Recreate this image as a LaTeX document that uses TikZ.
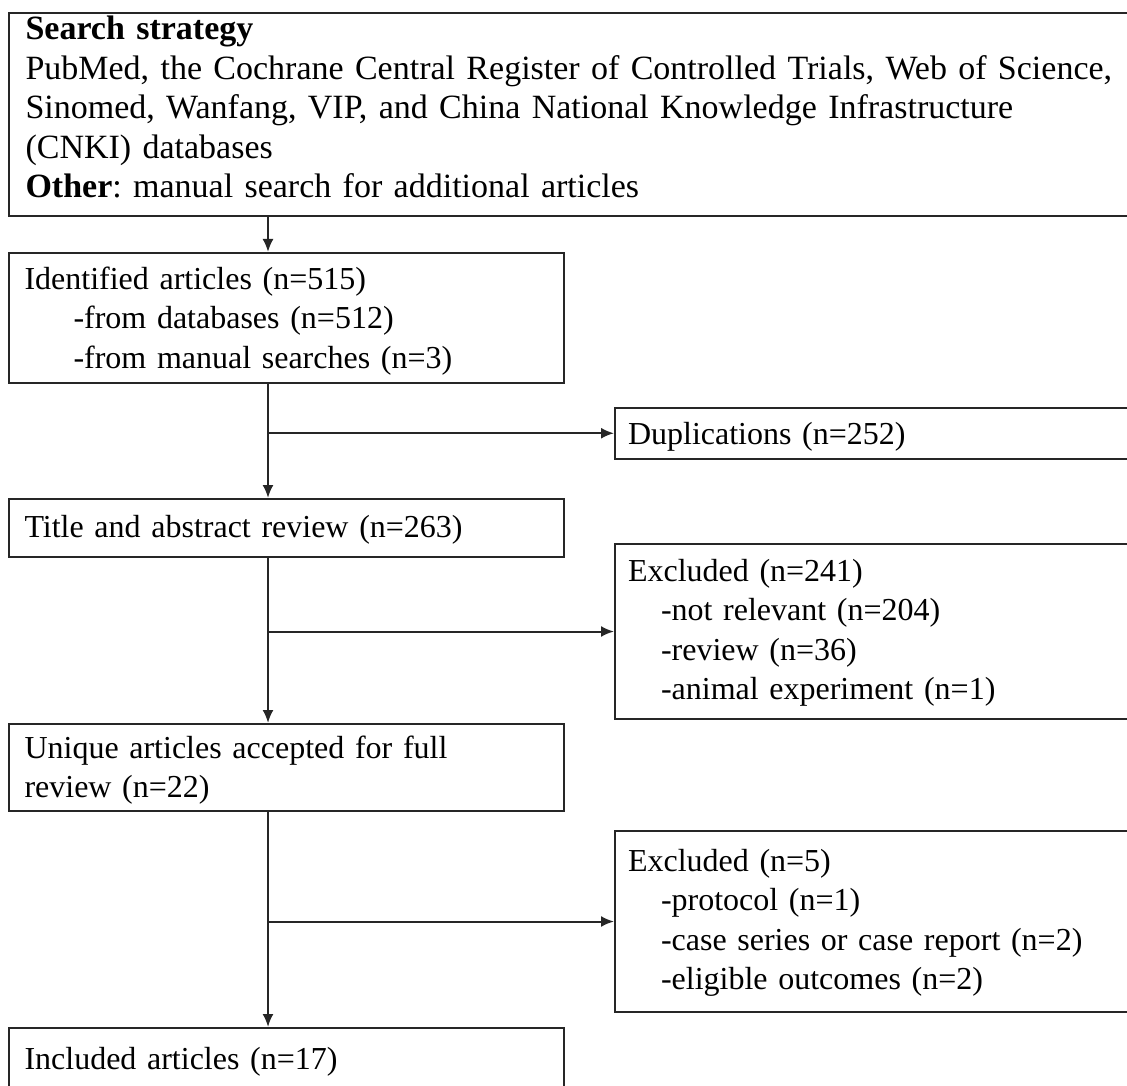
\documentclass[tikz,border=0pt]{standalone}
\usepackage{fontspec}
\setmainfont{Liberation Serif}
\usepackage{tikz}
\usetikzlibrary{positioning, arrows.meta, calc}
\frenchspacing

\begin{document}
\begin{tikzpicture}[
    x=1pt, y=-1pt,
    font=\fontsize{32}{39.5}\selectfont,
    box/.style={draw=black!85, line width=2pt, anchor=north west, align=left, inner xsep=16pt, inner ysep=0pt, text width=523.5pt},
    sidebox/.style={box, inner xsep=13pt, text width=500pt},
    arrow/.style={-{Latex[length=13pt, width=11pt]}, line width=2pt, draw=black!85},
]
\useasboundingbox (0,0) rectangle (1127,1086);
\node[box, font=\fontsize{34}{39.5}\selectfont, inner xsep=17pt, text width=1110pt, text height=27pt, text depth=176pt] (search) at (7.5,12)
    {\textbf{Search strategy}\\PubMed, the Cochrane Central Register of Controlled Trials, Web of Science,\\Sinomed, Wanfang, VIP, and China National Knowledge Infrastructure\\(CNKI) databases\\\textbf{Other}: manual search for additional articles};
\node[box, text height=36pt, text depth=94pt] (ident) at (7.5,252)
    {Identified articles (n=515)\\\hspace*{49pt}-from databases (n=512)\\\hspace*{49pt}-from manual searches (n=3)};
\node[sidebox, text height=36.5pt, text depth=14pt] (dup) at (614,407) {Duplications (n=252)};
\node[box, text height=38.5pt, text depth=19.5pt] (title) at (7.5,498) {Title and abstract review (n=263)};
\node[sidebox, text height=37pt, text depth=138pt] (excl1) at (614,543)
    {Excluded (n=241)\\\hspace*{33pt}-not relevant (n=204)\\\hspace*{33pt}-review (n=36)\\\hspace*{33pt}-animal experiment (n=1)};
\node[box, text height=34pt, text depth=53pt] (unique) at (7.5,723)
    {Unique articles accepted for full\\review (n=22)};
\node[sidebox, text height=40pt, text depth=141pt] (excl2) at (614,830)
    {Excluded (n=5)\\\hspace*{33pt}-protocol (n=1)\\\hspace*{33pt}-case series or case report (n=2)\\\hspace*{33pt}-eligible outcomes (n=2)};
\node[box, text height=41pt, text depth=40pt] (incl) at (7.5,1027) {Included articles (n=17)};
\coordinate (trunk) at (268,0);
\draw[arrow] (search.south -| trunk) -- (ident.north -| trunk);
\draw[arrow] (ident.south -| trunk) -- (title.north -| trunk);
\draw[arrow] (dup.west -| trunk) -- (dup.west);
\draw[arrow] (title.south -| trunk) -- (unique.north -| trunk);
\draw[arrow] (excl1.west -| trunk) -- (excl1.west);
\draw[arrow] (unique.south -| trunk) -- (incl.north -| trunk);
\draw[arrow] (excl2.west -| trunk) -- (excl2.west);
\end{tikzpicture}
\end{document}
